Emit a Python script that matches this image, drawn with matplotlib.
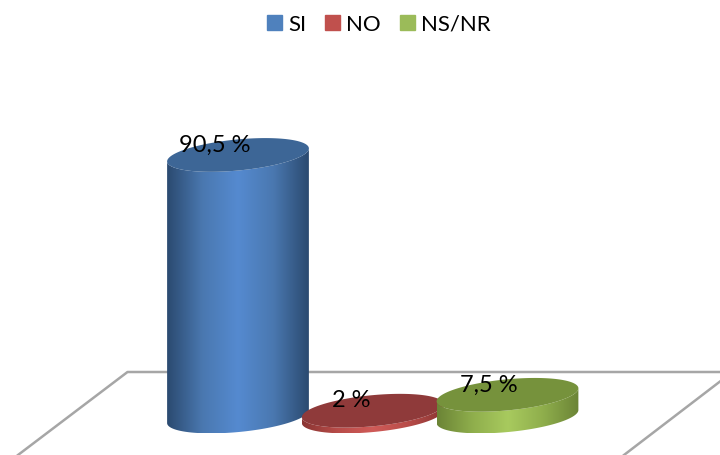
import numpy as np
import matplotlib
matplotlib.use("Agg")
import matplotlib.pyplot as plt
from matplotlib.colors import LinearSegmentedColormap
from matplotlib.patches import Polygon, Rectangle

categorias = ["SI", "NO", "NS/NR"]
valores = [90.5, 2, 7.5]
colores_cara = ["#3d6696", "#8f3a3a", "#76923c"]
colores_lado = [
    ["#2b4a70", "#4a78b0", "#558ad0", "#4a78b0", "#2b4a70"],
    ["#8a3533", "#b84c49", "#d05b58", "#b84c49", "#8a3533"],
    ["#6b8436", "#8fae4c", "#a8ca5e", "#8fae4c", "#6b8436"],
]

plt.rcParams["font.family"] = ["Lato", "DejaVu Sans"]

# ejes: una categoria = 134.75 px, un punto porcentual = 2.89 px
fig = plt.figure(figsize=(7.2, 4.55), dpi=100)
ax = fig.add_axes([0, 0, 1, 1])
ax.axis("off")

GIRO = np.radians(5.5)
t = np.linspace(0, 2 * np.pi, 361)


def _elipse(centro, altura):
    # elipse inclinada, calculada en pixeles y pasada a unidades de datos
    px = 71.2 * np.cos(t) * np.cos(GIRO) + 15.5 * np.sin(t) * np.sin(GIRO)
    py = 71.2 * np.cos(t) * np.sin(GIRO) - 15.5 * np.sin(t) * np.cos(GIRO)
    return centro + px / 134.75, altura + py / 2.89


def _cilindro(centro, altura, cara, lado, z):
    x_base, y_base = _elipse(centro, 0)
    x_top, y_top = _elipse(centro, altura)
    izq, der = np.argmin(x_base), np.argmax(x_base)

    # contorno del lado: arco inferior de la base y arco inferior de la tapa
    if izq < der:
        arco = np.arange(izq, der + 1)
    else:
        arco = np.r_[izq:len(t), 0:der + 1]
    if np.mean(y_base[arco]) > np.mean(y_base):
        arco = np.r_[der:izq + 1] if der < izq else np.r_[der:len(t), 0:izq + 1]
    pts = np.r_[np.c_[x_base[arco], y_base[arco]],
                np.c_[x_top[arco][::-1], y_top[arco][::-1]]]

    mapa = LinearSegmentedColormap.from_list("lado", lado)
    degradado = np.linspace(0, 1, 256).reshape(1, -1)
    img = ax.imshow(degradado, cmap=mapa, aspect="auto", zorder=z,
                    extent=[x_base.min(), x_base.max(), y_base.min(), y_top.max()])
    clip = Polygon(pts, closed=True, transform=ax.transData, facecolor="none", edgecolor="none")
    ax.add_patch(clip)
    img.set_clip_path(clip)
    ax.fill(x_top, y_top, color=cara, zorder=z + 0.1, linewidth=0)


# suelo del grafico
gris = "#a6a6a6"
suelo_x = np.array([18, 127.5, 720]) / 134.75 - 238 / 134.75
suelo_y = (416.5 - np.array([455, 372, 372])) / 2.89
ax.plot(suelo_x, suelo_y, color=gris, lw=1.8, zorder=1)
ax.plot((np.array([624, 720]) - 238) / 134.75, (416.5 - np.array([455, 381.5])) / 2.89,
        color=gris, lw=1.8, zorder=1)

desplaza_x = [-23 / 134.75, -22 / 134.75, -18.5 / 134.75]
desplaza_y = [9.5 / 2.89, 10 / 2.89, 9.5 / 2.89]
for i, v in enumerate(valores):
    _cilindro(i, v, colores_cara[i], colores_lado[i], 2 + i)
    ax.text(i + desplaza_x[i], v + desplaza_y[i], f"{str(v).replace('.', ',')} %",
            ha="center", va="center", fontsize=17, color="black", zorder=10)

ax.set_xlim(-238 / 134.75, 482 / 134.75)
ax.set_ylim(-38.5 / 2.89, 416.5 / 2.89)

marcas = [Rectangle((0, 0), 1, 1, color=c) for c in ["#4f81bd", "#c0504d", "#9bbb59"]]
fig.legend(marcas, categorias, loc="upper center", bbox_to_anchor=(0.526, 1.012), ncol=3,
           frameon=False, fontsize=16, handlelength=0.68, handleheight=0.68,
           handletextpad=0.27, columnspacing=0.85)

fig.savefig("out.png", dpi=100)
